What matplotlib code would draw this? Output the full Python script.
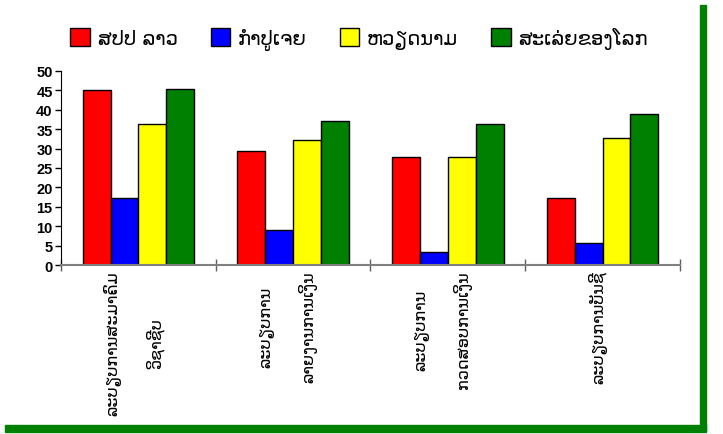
import numpy as np
import matplotlib.pyplot as plt
from matplotlib.patches import Rectangle

plt.rcParams['font.family'] = ['DejaVu Sans']

categories = ['ລະບຽບການສະມາຄົມ\nວິຊາຊີບ', 'ລະບຽບການ\nລາຍງານການເງິນ',
              'ລະບຽບການ\nກວດສອບການເງິນ', 'ລະບຽບການບັນຊີ']
series_names = ['ສປປ ລາວ', 'ກຳປູເຈຍ', 'ຫວຽດນາມ', 'ສະເລ່ຍຂອງໂລກ']
lao = [45.0, 29.3, 27.8, 17.2]
cambodia = [17.2, 8.9, 3.3, 5.6]
vietnam = [36.3, 32.1, 27.8, 32.8]
world = [45.4, 37.0, 36.3, 38.8]
colors = ['#ff0000', '#0000ff', '#ffff00', '#008000']
yticks = [0, 5, 10, 15, 20, 25, 30, 35, 40, 45, 50]

fig = plt.figure(figsize=(7.23, 4.35), dpi=100)
ax = fig.add_axes([0.0844, 0.3885, 0.856, 0.446])

x = np.arange(len(categories))
w = 0.18
for i, (vals, col, name) in enumerate(zip([lao, cambodia, vietnam, world], colors, series_names)):
    ax.bar(x + (i - 1.5) * w, vals, w, color=col, edgecolor='black', linewidth=1, label=name)

ax.set_xlim(-0.5, len(categories) - 0.5)
ax.set_ylim(0, 50)
ax.set_yticks(yticks)
ax.set_yticklabels([str(t) for t in yticks], fontsize=10.5, fontweight='bold',
                   family=['Liberation Sans', 'DejaVu Sans'])
ax.tick_params(axis='y', length=4, width=1, color='black', pad=2)

# separators between categories as major ticks, labels on minor ticks
ax.set_xticks(np.arange(-0.5, len(categories)), [''] * (len(categories) + 1))
ax.set_xticks(x - 0.03, categories, minor=True)
ax.tick_params(axis='x', which='major', length=8, width=1, color='#606060', direction='inout')
ax.tick_params(axis='x', which='minor', length=0, pad=4)
for lab in ax.get_xticklabels(minor=True):
    lab.set_rotation(90)
    lab.set_va('top')
    lab.set_ha('center')
    lab.set_multialignment('center')
    lab.set_fontsize(11.5)
    lab.set_linespacing(2.6)

for s in ['top', 'right']:
    ax.spines[s].set_visible(False)
ax.spines['bottom'].set_color('#808080')
ax.spines['bottom'].set_linewidth(1.5)
ax.spines['left'].set_color('black')

fig.legend(loc='center', bbox_to_anchor=(0.497, 0.91), ncol=4, frameon=False,
           fontsize=14, handlelength=1.0, handleheight=1.0, handletextpad=0.4,
           columnspacing=1.7)

# green frame on right and bottom
fig.patches.append(Rectangle((0.968, 0.007), 0.009, 0.98, transform=fig.transFigure,
                             color='#008000', zorder=0))
fig.patches.append(Rectangle((0.007, 0.005), 0.97, 0.016, transform=fig.transFigure,
                             color='#008000', zorder=0))

fig.savefig('out.png', dpi=100)
